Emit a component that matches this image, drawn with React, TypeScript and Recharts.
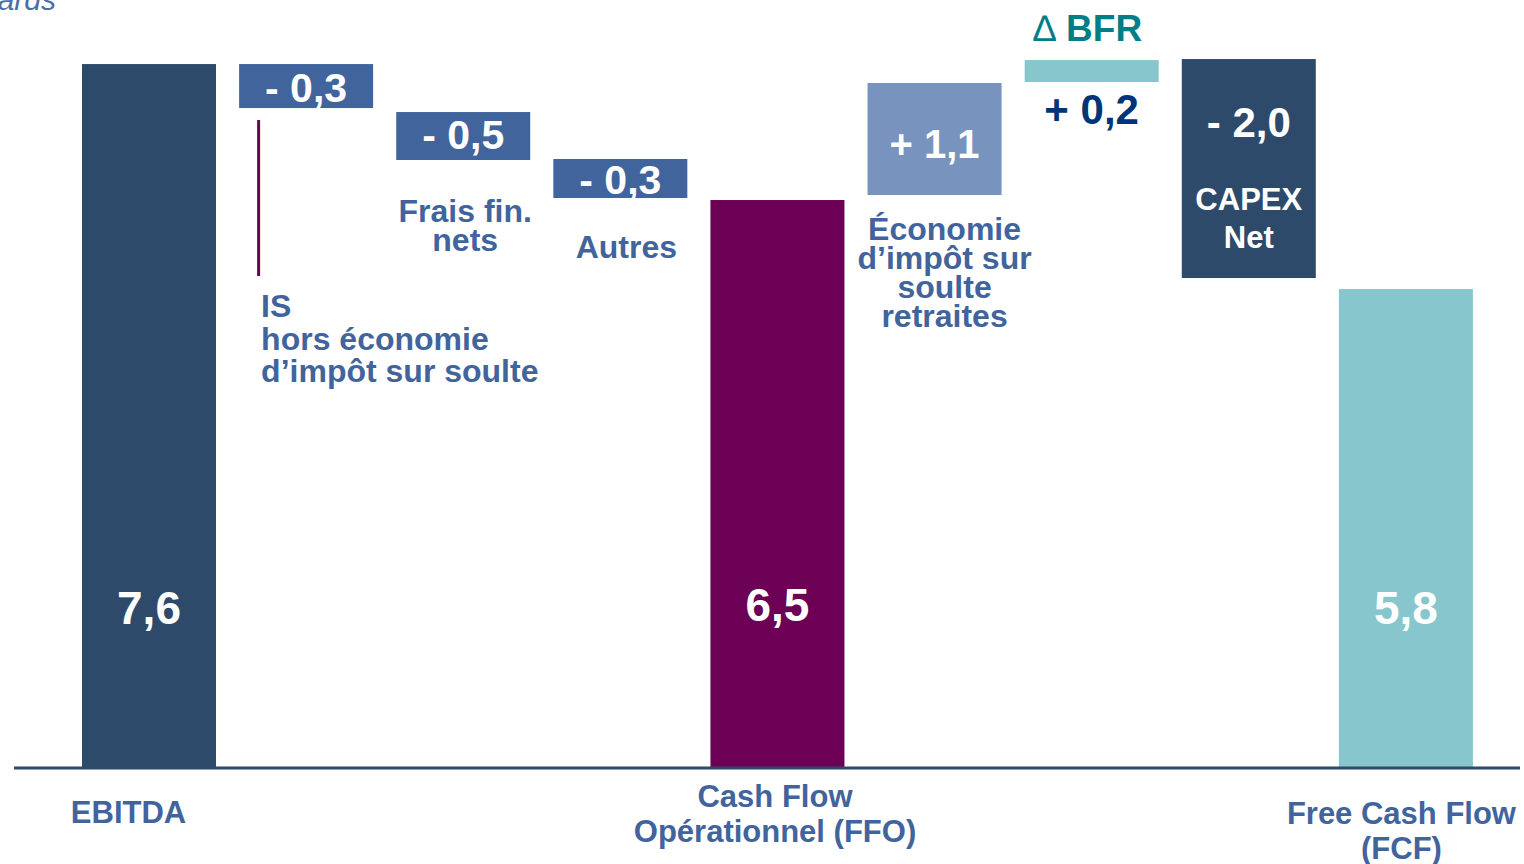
import React from 'react';
import { BarChart, Bar, XAxis, YAxis } from 'recharts';

// ---- data ----
const categories = ['EBITDA', 'IS', 'Frais fin. nets', 'Autres', 'FFO', 'Économie d’impôt', 'Δ BFR', 'CAPEX Net', 'FCF'];
const valueLabels = ['7,6', '- 0,3', '- 0,5', '- 0,3', '6,5', '+ 1,1', '+ 0,2', '- 2,0', '5,8'];
// floating bar extents as drawn in the slide (billions)
const barLow = [0, 7.125, 6.564, 6.154, 0, 6.186, 7.406, 5.29, 0];
const barHigh = [7.6, 7.6, 7.082, 6.575, 6.132, 7.395, 7.643, 7.654, 5.171];
const noteLines = [
  [],
  ['IS', 'hors économie', 'd’impôt sur soulte'],
  ['Frais fin.', 'nets'],
  ['Autres'],
  [],
  ['Économie', 'd’impôt sur', 'soulte', 'retraites'],
  ['∆|BFR'],
  ['CAPEX', 'Net'],
  [],
];
const axisLabelLines = [['EBITDA'], [], [], [], ['Cash Flow', 'Opérationnel (FFO)'], [], [], [], ['Free Cash Flow', '(FCF)']];
const unitLabel = 'En milliards';

// ---- styles ----
const FONT = "'Liberation Sans', Arial, sans-serif";
const BLUE = '#41649D';
const barColors = ['#2D4A6B', '#41649D', '#41649D', '#41649D', '#6B0054', '#7893BE', '#86C6CC', '#2D4A6B', '#86C6CC'];
const valueAnchor = ['bottom', 'mid', 'mid', 'mid', 'bottom', 'mid', 'bottom', 'top', 'bottom'];
const valueDy = [-144, 15.8, 12.8, 16, -147, 19, 41.6, 77.7, -144];
const valueSize = [46, 41, 41, 41, 46, 40, 42, 42, 46];
const valueColor = ['#fff', '#fff', '#fff', '#fff', '#fff', '#fff', '#003478', '#fff', '#fff'];
const noteAnchor = ['', 'bottom', 'bottom', 'bottom', '', 'bottom', 'top', 'top', ''];
const noteDy = [0, 209.3, 62, 60, 0, 45, -19.3, 151, 0];
const noteDx = [0, 22, 2, 6, 0, 10, -4, 0, 0];
const noteStep = [0, 32.3, 28.5, 0, 0, 29, 0, 37.5, 0];
const noteAlign = ['middle', 'start', 'middle', 'middle', 'middle', 'middle', 'middle', 'middle', 'middle'];
const noteColor = ['', BLUE, BLUE, BLUE, '', BLUE, '#007E87', '#fff', ''];
const noteSize = [32, 32, 32, 32, 32, 32, 37, 31, 32];
const axisDx = [-20, 0, 0, 0, -2, 0, 0, 0, -4];
const axisFirst = [55, 0, 0, 0, 39, 0, 0, 0, 56];

const rows = categories.map((name, i) => ({ name, range: [barLow[i], barHigh[i]], idx: i }));

function renderNote(t: string) {
  if (t.includes('|')) {
    const [sym, rest] = t.split('|');
    return (
      <>
        <tspan fontWeight="normal">{sym}</tspan>
        <tspan> {rest}</tspan>
      </>
    );
  }
  return t;
}

function BarShape(props: any) {
  const { x, y, width, height } = props;
  const i = props.payload?.idx ?? props.index;
  const top = Math.min(y, y + height);
  const bottom = Math.max(y, y + height);
  const cx = x + width / 2;
  const anchorY = (k: string) => (k === 'top' ? top : k === 'bottom' ? bottom : (top + bottom) / 2);
  const vy = anchorY(valueAnchor[i]) + valueDy[i];
  const lines = noteLines[i];
  const ny = anchorY(noteAnchor[i]) + noteDy[i];
  const nx = noteAlign[i] === 'start' ? x + noteDx[i] : cx + noteDx[i];
  return (
    <g>
      <rect x={x} y={top} width={width} height={bottom - top} fill={barColors[i]} />
      {i === 1 && (
        <line x1={x + 19.5} x2={x + 19.5} y1={bottom + 12} y2={bottom + 168} stroke="#6B0054" strokeWidth={3} />
      )}
      <text x={cx} y={vy} textAnchor="middle" fill={valueColor[i]} fontSize={valueSize[i]} fontWeight="bold" fontFamily={FONT}>
        {valueLabels[i]}
      </text>
      {lines.map((t, j) => (
        <text key={j} x={nx} y={ny + j * noteStep[i]} textAnchor={noteAlign[i]} fill={noteColor[i]} fontSize={noteSize[i]} fontWeight="bold" fontFamily={FONT}>
          {renderNote(t)}
        </text>
      ))}
    </g>
  );
}

function AxisTick(props: any) {
  const { x, y, payload } = props;
  const i = categories.indexOf(payload.value);
  const lines = axisLabelLines[i] || [];
  return (
    <g>
      {lines.map((t, j) => (
        <text key={j} x={x + axisDx[i]} y={y + axisFirst[i] + j * 35} textAnchor="middle" fill={BLUE} fontSize={31} fontWeight="bold" fontFamily={FONT}>
          {t}
        </text>
      ))}
    </g>
  );
}

export default function App() {
  return (
    <div style={{ position: 'absolute', left: 0, top: 0, width: 1524, height: 864, overflow: 'hidden', background: '#fff' }}>
      <span
        style={{
          position: 'absolute',
          right: 1524 - 56,
          top: -15.4,
          fontFamily: FONT,
          fontStyle: 'italic',
          fontSize: 30,
          lineHeight: '30px',
          color: '#4A6FA8',
          whiteSpace: 'nowrap',
        }}
      >
        {unitLabel}
      </span>
      <BarChart width={1524} height={864} data={rows} margin={{ top: 27, right: 4, bottom: 6, left: 14 }}>
        <YAxis hide type="number" domain={[0, 8]} />
        <XAxis
          dataKey="name"
          interval={0}
          height={90}
          tickLine={false}
          tickSize={0}
          tickMargin={0}
          padding={{ left: 56, right: 36 }}
          axisLine={{ stroke: '#2D4A6B', strokeWidth: 3 }}
          tick={<AxisTick />}
        />
        <Bar dataKey="range" barSize={134} isAnimationActive={false} shape={<BarShape />} />
      </BarChart>
    </div>
  );
}
